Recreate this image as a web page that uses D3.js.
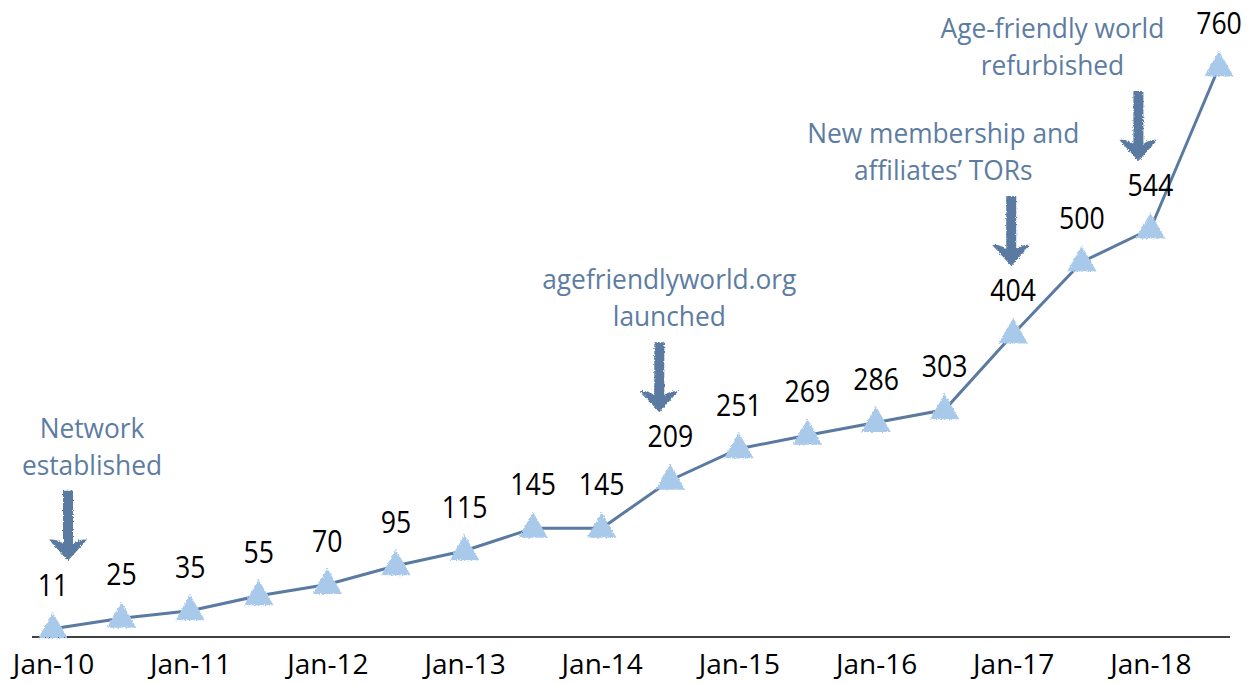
<!DOCTYPE html>
<html>
<head>
<meta charset="utf-8">
<script src="https://cdn.jsdelivr.net/npm/d3@7"></script>
<style>
  body { margin: 0; background: #fff; }
  svg { display: block; font-family: "Open Sans", sans-serif; }
</style>
</head>
<body>
<svg width="1247" height="684"></svg>
<script>
// half-year periods and network membership
var periods = ["Jan-10","Jul-10","Jan-11","Jul-11","Jan-12","Jul-12","Jan-13","Jul-13","Jan-14",
               "Jul-14","Jan-15","Jul-15","Jan-16","Jul-16","Jan-17","Jul-17","Jan-18","Jul-18"];
var members = [11, 25, 35, 55, 70, 95, 115, 145, 145, 209, 251, 269, 286, 303, 404, 500, 544, 760];
var tickLabels = ["Jan-10","Jan-11","Jan-12","Jan-13","Jan-14","Jan-15","Jan-16","Jan-17","Jan-18"];

// milestones
var milestonePeriods = ["Jan-10", "Jul-14", "Jan-17", "Jan-18"];
var milestoneLines = [
    ["Network", "established"],
    ["agefriendlyworld.org", "launched"],
    ["New membership and", "affiliates\u2019 TORs"],
    ["Age-friendly world", "refurbished"]
];

var lineColor = "#5a7aa1",
    markerColor = "#a9c9eb",
    noteColor = "#5d7ca2";

var svg = d3.select("svg");

var x = d3.scalePoint().domain(periods).range([53, 1219]);
var y = d3.scaleLinear().domain([0, 800]).range([637, 37]);

// rough edges, like the hand drawn markers in the original
var defs = svg.append("defs");
var f = defs.append("filter").attr("id", "rough")
    .attr("x", "-20%").attr("y", "-20%").attr("width", "140%").attr("height", "140%");
f.append("feTurbulence").attr("type", "fractalNoise").attr("baseFrequency", 0.7)
    .attr("numOctaves", 2).attr("seed", 3).attr("result", "noise");
f.append("feDisplacementMap").attr("in", "SourceGraphic").attr("in2", "noise")
    .attr("scale", 3.5).attr("xChannelSelector", "R").attr("yChannelSelector", "G");

var data = periods.map(function(p, i) { return {period: p, value: members[i]}; });

// x axis, line only
var axis = svg.append("g")
    .attr("transform", "translate(0," + y(0) + ")")
    .call(d3.axisBottom(x).tickValues(tickLabels).tickSize(0).tickPadding(17));
axis.select(".domain")
    .attr("d", "M" + (x.range()[0] - 21) + ",0H" + (x.range()[1] + 11))
    .attr("stroke", "#000").attr("stroke-width", 1.5);
axis.selectAll("text")
    .attr("font-size", 28)
    .attr("font-family", "Open Sans, sans-serif")
    .attr("fill", "#000");

// the line
var line = d3.line()
    .x(function(d) { return x(d.period); })
    .y(function(d) { return y(d.value); });

svg.append("path")
    .datum(data)
    .attr("fill", "none")
    .attr("stroke", lineColor)
    .attr("stroke-width", 3)
    .attr("d", line);

// triangle markers
svg.selectAll(".marker")
    .data(data)
    .enter().append("path")
    .attr("class", "marker")
    .attr("d", d3.symbol().type(d3.symbolTriangle).size(380))
    .attr("transform", function(d) { return "translate(" + x(d.period) + "," + (y(d.value) + 1) + ")"; })
    .attr("fill", markerColor)
    .attr("filter", "url(#rough)");

// value labels (narrowed a little, the original face is condensed)
svg.selectAll(".val")
    .data(data)
    .enter().append("text")
    .attr("class", "val")
    .attr("transform", function(d) {
        return "translate(" + x(d.period) + "," + (y(d.value) - 33) + ") scale(0.86,1)";
    })
    .attr("text-anchor", "middle")
    .attr("font-size", 31)
    .attr("fill", "#000")
    .text(function(d) { return d.value; });

// milestone arrows and notes
var arrowDx = [15, -11, -2, -12],
    textDx = [39, -1, -70, -98];

milestonePeriods.forEach(function(p, i) {
    var v = members[periods.indexOf(p)];
    var ax = x(p) + arrowDx[i];
    var tip = y(v) - 68;
    var top = tip - 70;

    var arrow = "M" + (ax - 5) + "," + top +
        "L" + (ax + 5) + "," + top +
        "L" + (ax + 5) + "," + (tip - 17) +
        "Q" + (ax + 12) + "," + (tip - 22) + " " + (ax + 19) + "," + (tip - 21) +
        "L" + ax + "," + tip +
        "L" + (ax - 19) + "," + (tip - 21) +
        "Q" + (ax - 12) + "," + (tip - 22) + " " + (ax - 5) + "," + (tip - 17) + "Z";

    svg.append("path")
        .attr("d", arrow)
        .attr("fill", lineColor)
        .attr("filter", "url(#rough)");

    var lines = milestoneLines[i];
    svg.append("g").selectAll("text")
        .data(lines)
        .enter().append("text")
        .attr("transform", function(d, j) {
            return "translate(" + (x(p) + textDx[i]) + "," + (top - 16 - (lines.length - 1 - j) * 37) + ") scale(0.94,1)";
        })
        .attr("text-anchor", "middle")
        .attr("font-size", 28)
        .attr("fill", noteColor)
        .text(function(d) { return d; });
});
</script>
</body>
</html>
